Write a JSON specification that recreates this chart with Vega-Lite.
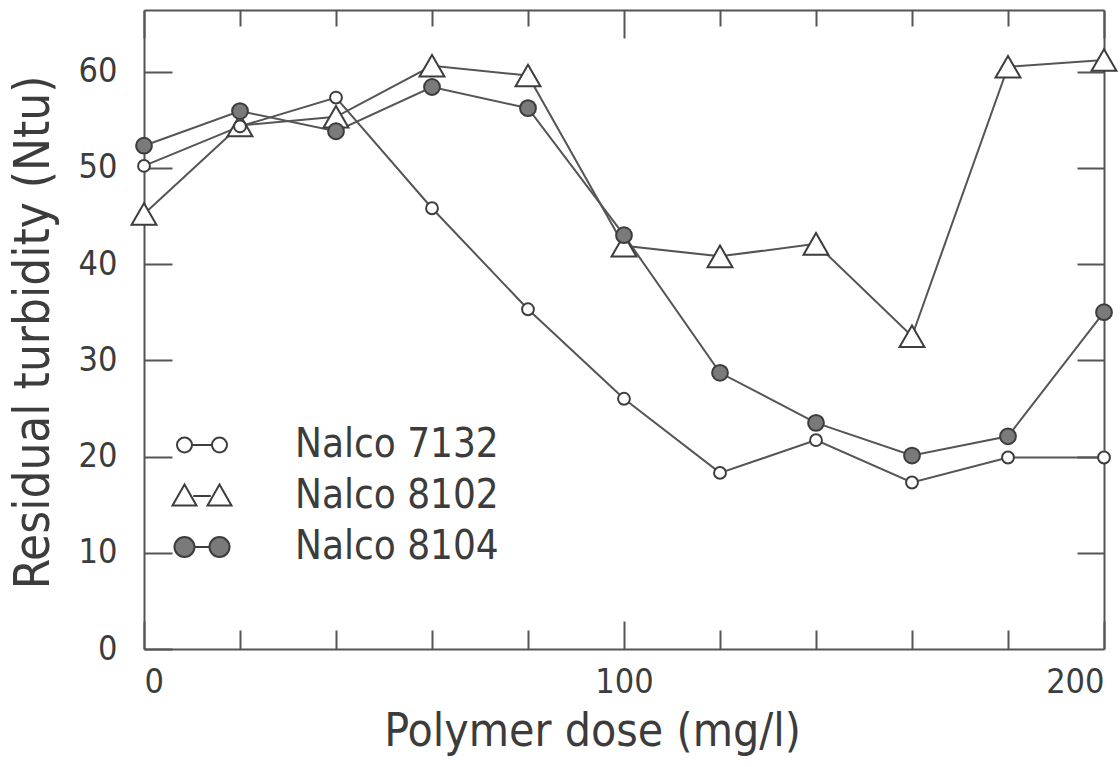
{
  "$schema": "https://vega.github.io/schema/vega-lite/v6.json",
  "width": 960,
  "height": 639,
  "autosize": {"type": "none"},
  "padding": {"left": 144, "top": 10, "right": 16, "bottom": 118},
  "background": "white",
  "data": {
    "values": [
      {"polymer": "Nalco 8102", "dose": 0, "turbidity": 45.2},
      {"polymer": "Nalco 8102", "dose": 20, "turbidity": 54.4},
      {"polymer": "Nalco 8102", "dose": 40, "turbidity": 55.3},
      {"polymer": "Nalco 8102", "dose": 60, "turbidity": 60.6},
      {"polymer": "Nalco 8102", "dose": 80, "turbidity": 59.6},
      {"polymer": "Nalco 8102", "dose": 100, "turbidity": 41.9},
      {"polymer": "Nalco 8102", "dose": 120, "turbidity": 40.8},
      {"polymer": "Nalco 8102", "dose": 140, "turbidity": 42.1},
      {"polymer": "Nalco 8102", "dose": 160, "turbidity": 32.5},
      {"polymer": "Nalco 8102", "dose": 180, "turbidity": 60.5},
      {"polymer": "Nalco 8102", "dose": 200, "turbidity": 61.2},
      {"polymer": "Nalco 7132", "dose": 0, "turbidity": 50.2},
      {"polymer": "Nalco 7132", "dose": 20, "turbidity": 54.3},
      {"polymer": "Nalco 7132", "dose": 40, "turbidity": 57.3},
      {"polymer": "Nalco 7132", "dose": 60, "turbidity": 45.8},
      {"polymer": "Nalco 7132", "dose": 80, "turbidity": 35.3},
      {"polymer": "Nalco 7132", "dose": 100, "turbidity": 26.0},
      {"polymer": "Nalco 7132", "dose": 120, "turbidity": 18.3},
      {"polymer": "Nalco 7132", "dose": 140, "turbidity": 21.7},
      {"polymer": "Nalco 7132", "dose": 160, "turbidity": 17.3},
      {"polymer": "Nalco 7132", "dose": 180, "turbidity": 19.9},
      {"polymer": "Nalco 7132", "dose": 200, "turbidity": 19.9},
      {"polymer": "Nalco 8104", "dose": 0, "turbidity": 52.3},
      {"polymer": "Nalco 8104", "dose": 20, "turbidity": 55.9},
      {"polymer": "Nalco 8104", "dose": 40, "turbidity": 53.8},
      {"polymer": "Nalco 8104", "dose": 60, "turbidity": 58.4},
      {"polymer": "Nalco 8104", "dose": 80, "turbidity": 56.2},
      {"polymer": "Nalco 8104", "dose": 100, "turbidity": 43.0},
      {"polymer": "Nalco 8104", "dose": 120, "turbidity": 28.7},
      {"polymer": "Nalco 8104", "dose": 140, "turbidity": 23.5},
      {"polymer": "Nalco 8104", "dose": 160, "turbidity": 20.1},
      {"polymer": "Nalco 8104", "dose": 180, "turbidity": 22.1},
      {"polymer": "Nalco 8104", "dose": 200, "turbidity": 35.0}
    ]
  },
  "config": {
    "view": {"stroke": null},
    "axis": {
      "grid": false,
      "domainColor": "#555555",
      "domainWidth": 2,
      "tickColor": "#555555",
      "tickWidth": 2,
      "labelFont": "DejaVu Sans Condensed, DejaVu Sans, sans-serif",
      "labelColor": "#3c3c3c",
      "labelFontSize": 34,
      "titleFont": "DejaVu Sans Condensed, DejaVu Sans, sans-serif",
      "titleColor": "#3c3c3c",
      "titleFontWeight": "normal",
      "titleFontSize": 46
    },
    "legend": {
      "orient": "none",
      "legendX": 32,
      "legendY": 409,
      "padding": 0,
      "rowPadding": 5,
      "symbolSize": 2500,
      "labelOffset": 67,
      "labelFontSize": 40,
      "labelFont": "DejaVu Sans Condensed, DejaVu Sans, sans-serif",
      "labelColor": "#3c3c3c",
      "labelLimit": 400,
      "symbolStrokeWidth": 2
    }
  },
  "layer": [
    {
      "mark": {"type": "line", "stroke": "#555555", "strokeWidth": 2},
      "encoding": {
        "x": {
          "field": "dose", "type": "quantitative",
          "scale": {"domain": [0, 200], "nice": false, "zero": false},
          "axis": {
            "orient": "bottom",
            "values": [0, 20, 40, 60, 80, 100, 120, 140, 160, 180, 200],
            "labelExpr": "datum.value % 100 === 0 ? datum.label : ''",
            "labelFlush": true,
            "tickSize": {"condition": {"test": "datum.value % 100 === 0", "value": -28}, "value": -19},
            "labelPadding": 44,
            "title": "Polymer dose (mg/l)",
            "titleX": 448,
            "titleY": 96,
            "titleBaseline": "alphabetic",
            "titleAlign": "center"
          }
        },
        "y": {
          "field": "turbidity", "type": "quantitative",
          "scale": {"domain": [0, 66.4], "nice": false},
          "axis": {
            "orient": "left",
            "values": [0, 10, 20, 30, 40, 50, 60],
            "tickSize": -28,
            "labelPadding": 55,
            "title": "Residual turbidity (Ntu)",
            "titleFontSize": 49,
            "titleX": -111,
            "titleY": 322,
            "titleAngle": -90,
            "titleBaseline": "middle",
            "titleAlign": "center"
          }
        },
        "detail": {"field": "polymer", "type": "nominal"}
      }
    },
    {
      "mark": {"type": "point", "filled": true, "stroke": "#3d3d3d", "strokeWidth": 2, "opacity": 1},
      "encoding": {
        "x": {
          "field": "dose", "type": "quantitative",
          "axis": {
            "orient": "top",
            "values": [0, 20, 40, 60, 80, 100, 120, 140, 160, 180, 200],
            "labels": false,
            "tickSize": {"condition": {"test": "datum.value % 100 === 0", "value": -28}, "value": -16},
            "title": null
          }
        },
        "y": {
          "field": "turbidity", "type": "quantitative",
          "axis": {
            "orient": "right",
            "values": [10, 20, 30, 40, 50, 60],
            "labels": false,
            "tickSize": -27,
            "title": null
          }
        },
        "shape": {
          "field": "polymer", "type": "nominal",
          "scale": {"domain": ["Nalco 7132", "Nalco 8102", "Nalco 8104"], "range": ["circle", "triangle-up", "circle"]},
          "legend": null
        },
        "fill": {
          "field": "polymer", "type": "nominal",
          "scale": {"domain": ["Nalco 7132", "Nalco 8102", "Nalco 8104"], "range": ["#ffffff", "#ffffff", "#7a7a7a"]},
          "legend": null
        },
        "size": {
          "field": "polymer", "type": "nominal",
          "scale": {"type": "ordinal", "domain": ["Nalco 7132", "Nalco 8102", "Nalco 8104"], "range": [140, 620, 250]},
          "legend": null
        }
      }
    },
    {
      "transform": [{"filter": "datum.dose < 0"}],
      "mark": {"type": "point", "filled": true, "strokeWidth": 2, "opacity": 1},
      "encoding": {
        "shape": {
          "field": "polymer", "type": "nominal",
          "scale": {
            "domain": ["Nalco 7132", "Nalco 8102", "Nalco 8104"],
            "range": [
              "M-1,0 A0.3,0.3 0 1,1 -0.4,0 A0.3,0.3 0 1,1 -1,0 Z M-0.4,0 L0.4,0 M0.4,0 A0.3,0.3 0 1,1 1,0 A0.3,0.3 0 1,1 0.4,0 Z",
              "M-0.7,-0.46 L-0.22,0.38 L-1.18,0.38 Z M-0.35,0 L0.35,0 M0.7,-0.46 L1.18,0.38 L0.22,0.38 Z",
              "M-1.1,0 A0.4,0.4 0 1,1 -0.3,0 A0.4,0.4 0 1,1 -1.1,0 Z M-0.3,0 L0.3,0 M0.3,0 A0.4,0.4 0 1,1 1.1,0 A0.4,0.4 0 1,1 0.3,0 Z"
            ]
          },
          "legend": {"title": null, "orient": "none", "legendX": 32, "legendY": 409}
        },
        "fill": {
          "field": "polymer", "type": "nominal",
          "scale": {"domain": ["Nalco 7132", "Nalco 8102", "Nalco 8104"], "range": ["#ffffff", "#ffffff", "#7a7a7a"]},
          "legend": {"title": null, "orient": "none", "legendX": 32, "legendY": 409}
        },
        "stroke": {
          "field": "polymer", "type": "nominal",
          "scale": {"domain": ["Nalco 7132", "Nalco 8102", "Nalco 8104"], "range": ["#3d3d3d", "#3d3d3d", "#3d3d3d"]},
          "legend": {"title": null, "orient": "none", "legendX": 32, "legendY": 409}
        }
      }
    }
  ],
  "resolve": {
    "axis": {"x": "independent", "y": "independent"},
    "scale": {"shape": "independent", "fill": "independent", "stroke": "independent"}
  }
}
